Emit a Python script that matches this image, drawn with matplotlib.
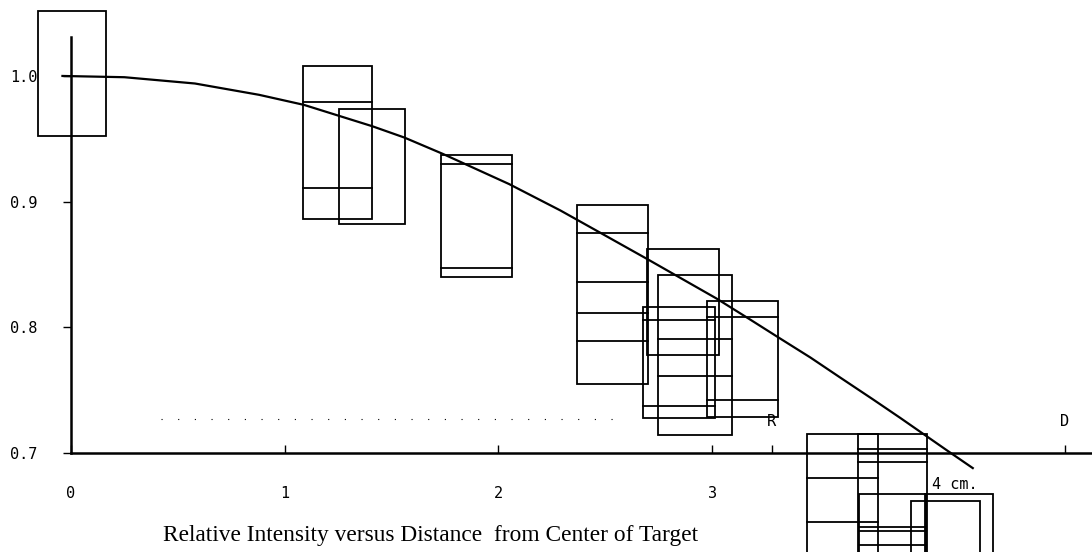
import matplotlib.pyplot as plt
from matplotlib.patches import Rectangle

# fitted intensity curve (distance / cm, relative intensity)
curve_x = [-0.04, 0.25, 0.58, 0.88, 1.09, 1.41, 1.56, 1.74, 2.05, 2.29, 2.49, 2.70,
           3.02, 3.18, 3.31, 3.46, 3.60, 3.75, 3.88, 3.99, 4.10, 4.22]
curve_y = [1.000, 0.999, 0.994, 0.985, 0.977, 0.960, 0.951, 0.938, 0.914, 0.893, 0.874, 0.854,
           0.823, 0.806, 0.792, 0.776, 0.760, 0.743, 0.728, 0.715, 0.702, 0.688]

# measurement boxes: x range, top/bottom and the inner levels drawn across them
box_x0 = [-0.154, 1.086, 1.254, 1.731, 2.368, 2.695, 2.747, 2.677, 2.976,
          3.444, 3.683, 3.687, 3.996, 3.931]
box_x1 = [0.164, 1.409, 1.563, 2.064, 2.700, 3.032, 3.093, 3.014, 3.308,
          3.776, 4.006, 4.001, 4.314, 4.254]
box_top = [1.052, 1.008, 0.974, 0.937, 0.897, 0.862, 0.842, 0.816, 0.821,
           0.715, 0.715, 0.667, 0.667, 0.662]
box_bottom = [0.952, 0.886, 0.882, 0.840, 0.755, 0.778, 0.714, 0.728, 0.729,
              0.58, 0.58, 0.58, 0.58, 0.58]
box_inner = [[], [0.979, 0.911], [], [0.930, 0.847], [0.875, 0.836, 0.811, 0.789],
             [], [0.791, 0.761], [0.806, 0.737], [0.808, 0.742],
             [0.680, 0.645], [0.703, 0.693], [0.641, 0.638, 0.627], [], []]

x_ticks = [0, 1, 2, 3]
x_labels = ["0", "1", "2", "3"]
marks = [3.28, 4.65]
mark_labels = ["R", "D"]
y_ticks = [1.0, 0.9, 0.8, 0.7]
y_labels = ["1.0", "0.9", "0.8", "0.7"]

mono = "DejaVu Sans Mono"

fig = plt.figure(figsize=(10.92, 5.52), dpi=100)
ax = fig.add_axes([71 / 1092, 99 / 552, 1021 / 1092, 416 / 552])
ax.set_xlim(0, 4.778)
ax.set_ylim(0.7, 1.031)

for s in ["top", "right"]:
    ax.spines[s].set_visible(False)
ax.spines["left"].set_linewidth(1.8)
ax.spines["bottom"].set_linewidth(1.8)

for x0, x1, top, bot, inner in zip(box_x0, box_x1, box_top, box_bottom, box_inner):
    ax.add_patch(Rectangle((x0, bot), x1 - x0, top - bot, fill=False,
                           edgecolor="black", lw=1.3, clip_on=False))
    for lev in inner:
        ax.plot([x0, x1], [lev, lev], color="black", lw=1.3, clip_on=False)

ax.plot(curve_x, curve_y, color="black", lw=1.6, clip_on=False)

# faint dotted reference line from the scan
ax.plot([0.42, 2.6], [0.727, 0.727], color="black", lw=0.8,
        linestyle=(0, (1, 14)), clip_on=False)

ax.set_xticks(x_ticks)
ax.set_xticklabels(x_labels, fontfamily=mono, fontsize=11)
ax.set_xticks(marks, minor=True)
ax.tick_params(axis="x", which="both", direction="in", length=6, width=1, pad=24)
ax.set_yticks(y_ticks)
ax.set_yticklabels(y_labels, fontfamily=mono, fontsize=11)
ax.tick_params(axis="y", direction="out", length=6, width=1, pad=18)

for m, lab in zip(marks, mark_labels):
    ax.text(m, 0.7247, lab, fontfamily=mono, fontsize=11, ha="center", va="center")
ax.text(4.03, 0.675, "4 cm.", fontfamily=mono, fontsize=11, ha="left", va="center",
        clip_on=False)

fig.text(163 / 1092, 1 - 536 / 552,
         "Relative Intensity versus Distance  from Center of Target",
         fontfamily="Liberation Serif", fontsize=16.8, ha="left", va="center")

fig.savefig("out.png", dpi=100)
